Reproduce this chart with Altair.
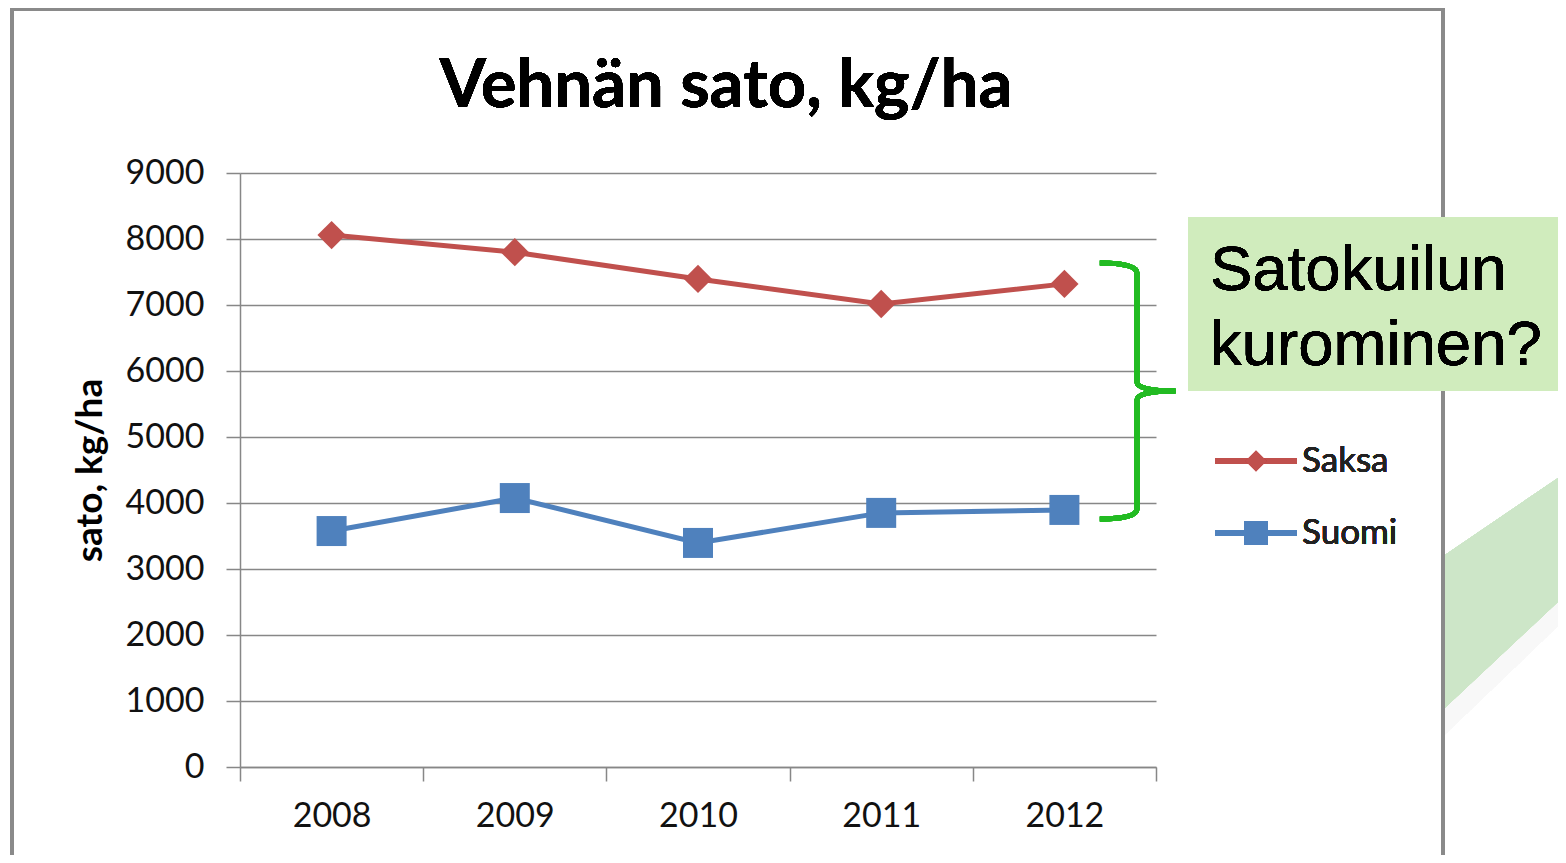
import altair as alt
import pandas as pd

years = ["2008", "2009", "2010", "2011", "2012"]
saksa = [8060, 7800, 7395, 7015, 7320]
suomi = [3575, 4075, 3395, 3850, 3895]
series = ["Saksa", "Suomi"]
colors = ["#c0504d", "#4f81bd"]
shapes = ["diamond", "square"]
marker_sizes = [800, 900]
legend_sizes = [420, 576]
title_text = "Vehnän sato, kg/ha"
y_title = "sato, kg/ha"
note_lines = ["Satokuilun", "kurominen?"]
y_ticks = list(range(0, 10000, 1000))

df = pd.DataFrame({
    "year": years * 2,
    "value": saksa + suomi,
    "series": [series[0]] * len(years) + [series[1]] * len(years),
})

FONT = "Lato"
GRID = "#878787"

base = alt.Chart(df)

x_enc = alt.X("year:O", scale=alt.Scale(type="band", paddingInner=0, paddingOuter=0),
              axis=alt.Axis(title=None, labelAngle=0, tickBand="extent", tickSize=14,
                            tickColor=GRID, tickWidth=1.5, domainColor=GRID, domainWidth=1.5,
                            labelFont=FONT, labelFontSize=34, labelColor="#111111",
                            labelPadding=18, grid=False))
y_enc = alt.Y("value:Q", scale=alt.Scale(domain=[0, 9000], nice=False),
              axis=alt.Axis(values=y_ticks, format="d", title=y_title, titleX=-150, titleY=297,
                            titleAngle=270, titleAlign="center", titleBaseline="middle",
                            titleFont=FONT, titleFontSize=37, titleFontWeight="bold",
                            titleColor="#000000",
                            grid=True, gridColor=GRID, gridWidth=1.5,
                            tickSize=14, tickColor=GRID, tickWidth=1.5,
                            domainColor=GRID, domainWidth=1.5,
                            labelFont=FONT, labelFontSize=34, labelColor="#111111",
                            labelPadding=22))
color_enc = alt.Color("series:N", scale=alt.Scale(domain=series, range=colors), legend=None)

# background decoration band (outside the frame) with a faint shadow
shadow_path = "M -0.49,0.94 L 0.48,0.03 L 0.48,0.22 L -0.49,1.15 Z"
shadow = base.mark_point(shape=shadow_path, filled=True, color="#f8f8f8", opacity=1,
                         strokeWidth=0, size=65536).encode(
    x=alt.value(1265), y=alt.value(417))
band_path = "M -0.49,-0.26 L 0.48,-0.92 L 0.48,0.03 L -0.49,0.94 Z"
band = base.mark_point(shape=band_path, filled=True, color="#cde6c8", opacity=1,
                       strokeWidth=0, size=65536).encode(
    x=alt.value(1265), y=alt.value(417))

frame = base.mark_rect(filled=False, stroke="#8a8a8a", strokeWidth=3, fillOpacity=0).encode(
    x=alt.value(-228), x2=alt.value(1203), y=alt.value(-164), y2=alt.value(720))

lines = base.mark_line(strokeWidth=5).encode(x=x_enc, y=y_enc, color=color_enc)
points = base.mark_point(filled=True, opacity=1, strokeWidth=0).encode(
    x="year:O", y="value:Q", color=color_enc,
    shape=alt.Shape("series:N", scale=alt.Scale(domain=series, range=shapes), legend=None),
    size=alt.Size("series:N", scale=alt.Scale(domain=series, range=marker_sizes), legend=None),
)

# curly bracket
brace_path = ("M -0.29,-1 Q 0,-1 0,-0.92 L 0,-0.07 Q 0,0 0.3,0 "
              "M 0.3,0 Q 0,0 0,0.07 L 0,0.92 Q 0,1 -0.29,1")
brace = base.mark_point(shape=brace_path, filled=False, stroke="#22bb22", strokeWidth=5,
                        opacity=1, size=65536).encode(x=alt.value(897), y=alt.value(218))

note_box = base.mark_rect(fill="#d0ecbd").encode(
    x=alt.value(948), x2=alt.value(1330), y=alt.value(44), y2=alt.value(218))
note_text = base.mark_text(align="left", baseline="alphabetic", font="Liberation Sans",
                           fontSize=63.5, color="#000000", lineHeight=75).encode(
    x=alt.value(970), y=alt.value(117), text=alt.value(note_lines))

title = base.mark_text(align="center", baseline="alphabetic", font=FONT, fontSize=67,
                       fontWeight="bold", color="#000000").encode(
    x=alt.value(486), y=alt.value(-66), text=alt.value(title_text))

legend_layers = []
for i, s in enumerate(series):
    ly = 288 + i * 72
    legend_layers.append(base.mark_rule(strokeWidth=5, color=colors[i]).encode(
        x=alt.value(975), x2=alt.value(1057), y=alt.value(ly)))
    legend_layers.append(base.mark_point(shape=shapes[i], filled=True, opacity=1,
                                         strokeWidth=0, color=colors[i],
                                         size=legend_sizes[i]).encode(
        x=alt.value(1016), y=alt.value(ly)))
    legend_layers.append(base.mark_text(align="left", baseline="middle", font=FONT,
                                        fontSize=35, color="#222222").encode(
        x=alt.value(1062), y=alt.value(ly), text=alt.value(s)))

chart = alt.layer(shadow, band, frame, lines, points, brace, note_box, note_text, title,
                  *legend_layers).properties(
    width=916, height=594,
    autosize=alt.AutoSizeParams(type="none"),
    padding={"left": 232, "top": 165, "right": 402, "bottom": 88},
    background="#ffffff",
).configure_view(stroke=None)

chart.save("out.html", embed_options={"renderer": "svg", "actions": False})
